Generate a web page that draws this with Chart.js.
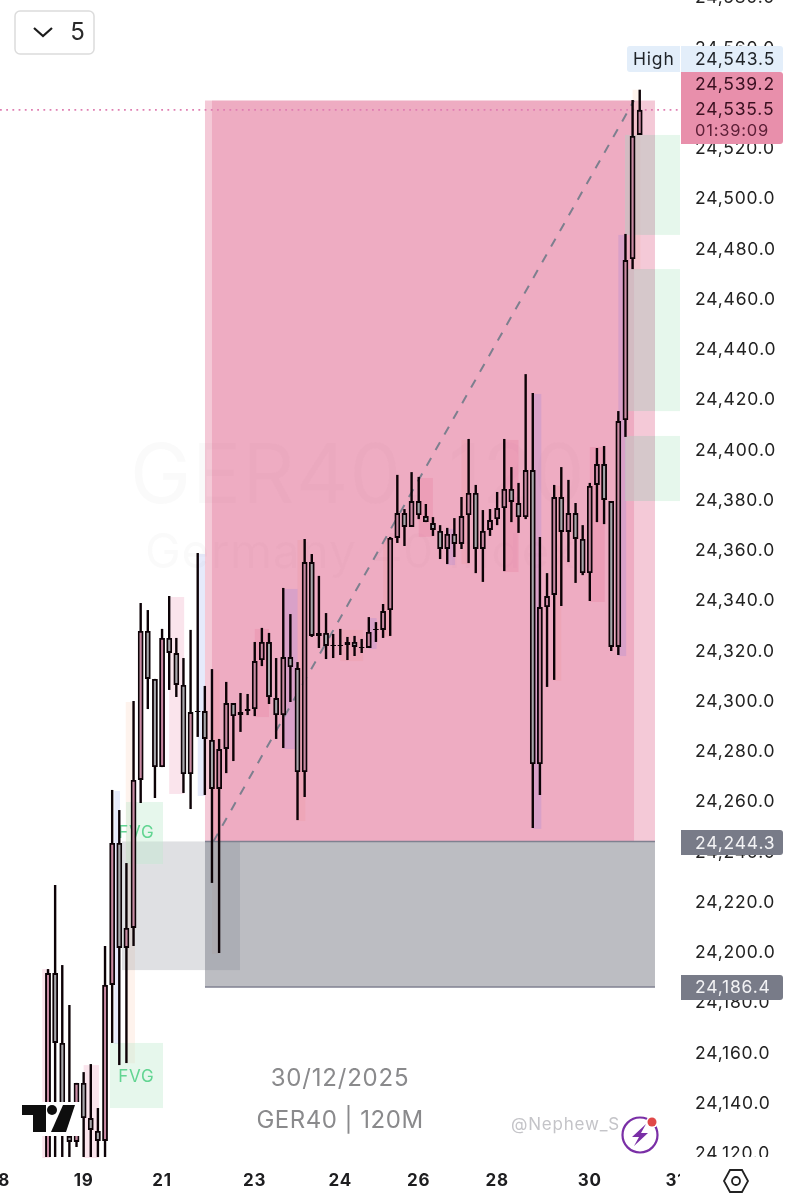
<!DOCTYPE html>
<html><head><meta charset="utf-8">
<style>html,body{margin:0;padding:0;background:#fff;overflow:hidden}canvas{position:absolute;left:0;top:-2px}</style>
<script src="https://cdn.jsdelivr.net/npm/chart.js@4/dist/chart.umd.min.js"></script>
</head><body><canvas id="c" width="791" height="1202" style="width:791px;height:1202px"></canvas>
<script>
const opens=[24115.5,24191.9,24164.1,24127.1,24124.7,24148.2,24134.2,24129.1,24125.1,24187.2,24243.7,24201.9,24209.9,24268.8,24328.1,24309,24273.9,24325.3,24319.3,24306.6,24271.1,24295.8,24296.2,24284.7,24265.2,24281.1,24299.4,24294.6,24296.2,24297,24316.5,24323.7,24301.4,24294.6,24317.7,24313.3,24271.9,24355.5,24326.1,24327.3,24322.1,24322.5,24322.5,24323.7,24321.7,24321.3,24328.5,24328.5,24336.4,24365.1,24375,24369.5,24379.8,24373.8,24371,24367.9,24360.7,24366.7,24362.7,24374.2,24383,24360.7,24368.3,24372.6,24377,24384.6,24379,24373.4,24392.1,24275.1,24337.6,24342.4,24381.4,24367.5,24375,24364.7,24351.1,24386.2,24394.5,24379.8,24321.7,24412,24476.1,24525.5];
const highs=[24193.5,24227,24195.1,24179.2,24148.2,24152.5,24155.7,24138.2,24202.7,24264.8,24256.8,24235.7,24300.2,24339.2,24336.4,24309,24328.9,24342,24325.3,24317.3,24328.5,24359.1,24306.2,24312.9,24285.1,24307.8,24299.4,24303.4,24303,24323.7,24329.3,24327.3,24317.3,24345.2,24334.8,24315.7,24364.7,24358.7,24350,24335.2,24326.9,24328.9,24325.7,24326.1,24324.9,24333.6,24331.6,24338.8,24365.5,24390.2,24376.6,24391.3,24389.4,24378.6,24373.4,24370.2,24369.1,24373,24381.4,24404.5,24386.2,24376.2,24376.6,24383.4,24404.5,24393.3,24387,24430.3,24422.8,24365.5,24351.1,24386.2,24393.3,24388.2,24379,24370.2,24387,24400.9,24401.7,24379.8,24415.6,24486.1,24539.4,24543.5];
const lows=[24115.5,24115.5,24115.5,24115.5,24122.7,24115.5,24115.5,24115.5,24115.5,24164.1,24155.3,24156.1,24202.7,24259.6,24297,24261.6,24273.9,24304.6,24301.8,24263.6,24257.2,24285.9,24262.8,24227.8,24199.9,24271.5,24276.3,24287.9,24294.6,24294.2,24314.1,24299,24285.1,24281.5,24299.8,24252.8,24262,24325.7,24321.3,24316.9,24317.3,24318.5,24316.5,24318.1,24319.3,24321.3,24323.7,24325.3,24326.1,24363.1,24361.9,24369.5,24372.6,24371.4,24365.9,24356.7,24354.7,24357.5,24360.7,24355.1,24351.1,24347.6,24365.9,24370.2,24351.9,24371.4,24367.1,24372.6,24249.7,24262.8,24305.8,24308.6,24338,24355.5,24347.2,24350.3,24340,24371.4,24370.6,24320.1,24318.5,24405.3,24472.1,24525.5];
const closes=[24191.9,24164.1,24127.1,24124.7,24148.2,24134.2,24129.5,24125.1,24187.2,24243.7,24201.9,24209.9,24268.8,24328.1,24309,24273.9,24325.3,24319.3,24306.6,24271.1,24295.8,24296.2,24285.1,24265.2,24281.1,24299.4,24294.2,24295.8,24297,24316.1,24323.7,24301.8,24294.6,24317.7,24313.7,24271.9,24355.5,24326.1,24327.3,24322.1,24322.5,24322.1,24323.7,24321.7,24321.3,24327.7,24328.9,24336,24365.1,24375,24369.5,24379.8,24374.2,24371.4,24368.3,24360.7,24366.7,24362.7,24373.8,24383,24360.7,24367.9,24372.2,24377,24384.6,24379.4,24373.4,24392.1,24275.1,24337.6,24342,24381.4,24367.5,24375,24364.7,24351.1,24385.8,24394.5,24380.2,24321.7,24411.6,24475.7,24525.1,24535.5];

const yTicks=[24120,24140,24160,24180,24200,24220,24240,24260,24280,24300,24320,24340,24360,24380,24400,24420,24440,24460,24480,24500,24520,24540,24560,24580];
const dayTickIndex=[-6.73,5,16,29,41,52,63,76,88];
const dayTickLabel=['18','19','21','23','24','26','28','30','31'];

// zones: [first bar, last bar, top price, bottom price]
const premiumOuter=[22.02,85.14,24539.2,24244.3];
const premiumInner=[23,82.2,24539.2,24244.3];
const discount=[22.02,85.14,24244.3,24186.4];
const orderBlock=[10.38,26.93,24244.3,24193.1];
const fvgLeft=[[10.94,16.13,24260,24235.3],[8.7,16.13,24164.1,24138.2]];
const fvgRight=[[80.94,88.65,24525.5,24485.7],[80.94,88.65,24472.1,24415.6],[80.94,88.65,24405.7,24379.8]];
const fvgLabels=[[12.4,24247.7],[12.4,24150.5]];
const pinkBands=[[-0.8,0.3,24193.5,24118.3],[5,7.15,24155.3,24118.3],[17,19.1,24341.6,24263.2],[29,31,24328.9,24293.8],[52,54,24389,24365.5],[64,66,24404.1,24351.5],[76,78.1,24401.3,24339.6]];
const blueBands=[[9.3,10.1,24264.4,24163.7],[21,22.02,24358.7,24262.4]];
const peachBands=[[10.9,12.2,24299.8,24156],[23,24.1,24312.5,24199.5],[35,36.1,24364.3,24252.4],[41,44.2,24328.5,24316.1],[47,48.1,24365.1,24325.7],[58,59.1,24404.1,24354.7],[71,72,24385.8,24308.2],[82,83.1,24543.5,24471.7]];
const purpleBands=[[33,35,24344.8,24281.1],[45,46.1,24333.2,24320.9],[56,57.1,24368.7,24354.3],[68,69.2,24422.4,24249.3],[80,81.1,24485.7,24318.1]];
const fibLine=[[23.2,24244.3],[82.2,24539.2]];
const lastPrice=24535.5;

const idx=opens.map((_,i)=>i);
const upColor='#c98aa3', downColor='#a7a7ab', inkColor='#16060c';
const FONT='Inter, "Noto Sans", sans-serif';

function rect(chart,ctx,z,color){
  const {x,y}=chart.scales;
  const x0=x.getPixelForValue(z[0]),x1=x.getPixelForValue(z[1]),y0=y.getPixelForValue(z[2]),y1=y.getPixelForValue(z[3]);
  ctx.fillStyle=color;ctx.fillRect(x0,y0,x1-x0,y1-y0);
}
const zonesPlugin={id:'zones',
 beforeDraw(chart){chart.ctx.letterSpacing='0.8px';},
 beforeDatasetsDraw(chart){
  const ctx=chart.ctx,{x,y}=chart.scales;
  ctx.save();
  ctx.font='82px '+FONT;ctx.fillStyle='rgba(110,110,110,0.03)';ctx.textAlign='left';ctx.textBaseline='alphabetic';
  ctx.fillText('GER40, 120',130,505);
  ctx.font='48px '+FONT;ctx.fillText('Germany 40 Index',145,570);
  pinkBands.forEach(b=>rect(chart,ctx,b,'rgba(228,120,160,0.2)'));
  blueBands.forEach(b=>rect(chart,ctx,b,'rgba(130,150,235,0.2)'));
  peachBands.forEach(b=>rect(chart,ctx,b,'rgba(250,170,130,0.14)'));
  rect(chart,ctx,premiumOuter,'rgba(224,100,140,0.35)');
  rect(chart,ctx,premiumInner,'rgba(218,70,120,0.22)');
  purpleBands.forEach(b=>rect(chart,ctx,b,'rgba(130,110,225,0.19)'));
  rect(chart,ctx,discount,'rgba(122,124,133,0.5)');
  rect(chart,ctx,orderBlock,'rgba(128,130,145,0.25)');
  fvgLeft.forEach(b=>rect(chart,ctx,b,'rgba(190,235,205,0.38)'));
  fvgRight.forEach(b=>{
    rect(chart,ctx,[b[0],premiumOuter[1],b[2],b[3]],'rgba(193,199,195,0.6)');
    rect(chart,ctx,[premiumOuter[1],b[1],b[2],b[3]],'rgba(190,235,205,0.38)');
  });
  ctx.strokeStyle='#7f8190';ctx.lineWidth=1.6;
  [discount[2],discount[3]].forEach(p=>{const py=y.getPixelForValue(p);ctx.beginPath();ctx.moveTo(x.getPixelForValue(discount[0]),py);ctx.lineTo(x.getPixelForValue(discount[1]),py);ctx.stroke();});
  ctx.font='17px '+FONT;ctx.fillStyle='#62d592';ctx.textAlign='center';ctx.textBaseline='middle';
  fvgLabels.forEach(l=>ctx.fillText('FVG',x.getPixelForValue(l[0]),y.getPixelForValue(l[1])));
  const ly=y.getPixelForValue(lastPrice);
  ctx.strokeStyle='#df7fb2';ctx.lineWidth=1.7;ctx.setLineDash([1.8,4.4]);
  ctx.beginPath();ctx.moveTo(0,ly);ctx.lineTo(chart.chartArea.right,ly);ctx.stroke();
  ctx.restore();
}};
function box(ctx,x,y,w,h,fill,r){ctx.fillStyle=fill;ctx.beginPath();ctx.roundRect(x,y,w,h,r);ctx.fill();}
const overlayPlugin={id:'overlay',afterDraw(chart){
  const ctx=chart.ctx;
  ctx.save();ctx.translate(0,2);
  ctx.fillStyle='#fff';ctx.fillRect(680,1157,111,50);
  ctx.textAlign='center';ctx.textBaseline='middle';ctx.fillStyle='#8a8a8c';ctx.font='24px '+FONT;
  ctx.fillText('30/12/2025',340,1079);
  ctx.letterSpacing='0.5px';ctx.fillText('GER40 | 120M',340,1121);ctx.letterSpacing='0.8px';
  ctx.fillStyle='#c4c4c8';ctx.font='17px '+FONT;ctx.textAlign='left';
  ctx.fillText('@Nephew_S',511,1125);
  ctx.fillStyle='#fff';ctx.beginPath();ctx.arc(640,1135,19,0,7);ctx.fill();
  ctx.strokeStyle='#7a2fa6';ctx.lineWidth=2.2;ctx.beginPath();ctx.arc(640,1135,17.5,0,6.3);ctx.stroke();
  ctx.fillStyle='#7a2fa6';ctx.beginPath();ctx.moveTo(646,1124);ctx.lineTo(632,1137);ctx.lineTo(639,1137);ctx.lineTo(634,1146);ctx.lineTo(648,1133);ctx.lineTo(641,1133);ctx.closePath();ctx.fill();
  ctx.fillStyle='#fff';ctx.beginPath();ctx.arc(652,1122,6,0,7);ctx.fill();
  ctx.fillStyle='#e04848';ctx.beginPath();ctx.arc(652,1122,4.5,0,7);ctx.fill();
  ctx.fillStyle='#fff';ctx.fillRect(20,1102,60,34);
  ctx.fillStyle='#0e0e0e';
  ctx.beginPath();ctx.moveTo(22,1105);ctx.lineTo(46,1105);ctx.lineTo(46,1132);ctx.lineTo(33,1132);ctx.lineTo(33,1115);ctx.lineTo(22,1115);ctx.closePath();ctx.fill();
  ctx.beginPath();ctx.arc(52,1110,5,0,7);ctx.fill();
  ctx.beginPath();ctx.moveTo(63,1105);ctx.lineTo(75,1105);ctx.lineTo(66,1132);ctx.lineTo(51,1132);ctx.closePath();ctx.fill();
  ctx.strokeStyle='#dcdcdc';ctx.lineWidth=1.5;ctx.fillStyle='#fff';ctx.beginPath();ctx.roundRect(15,11,79,43,5);ctx.fill();ctx.stroke();
  ctx.strokeStyle='#1c1c1c';ctx.lineWidth=2.2;ctx.beginPath();ctx.moveTo(34,28);ctx.lineTo(43,36);ctx.lineTo(52,28);ctx.stroke();
  ctx.fillStyle='#2a2a2a';ctx.font='24px '+FONT;ctx.textAlign='center';ctx.fillText('5',78,33);
  box(ctx,627,46,53,26,'#e3eefa',[3,0,0,3]);
  box(ctx,681,46,102,26,'#e3eefa',[0,3,3,0]);
  box(ctx,681,72,102,72,'#e88fab',[0,3,3,0]);
  box(ctx,681,830,102,25,'#787b88',[0,3,3,0]);
  box(ctx,681,975,102,25,'#787b88',[0,3,3,0]);
  ctx.font='17.5px '+FONT;ctx.textAlign='left';ctx.fillStyle='#1f2328';
  ctx.fillText('High',633,60);ctx.fillText('24,543.5',695,60);
  ctx.fillStyle='#3a1020';ctx.fillText('24,539.2',695,85);ctx.fillText('24,535.5',695,110);
  ctx.font='16.5px '+FONT;ctx.fillStyle='#5e2038';ctx.fillText('01:39:09',695,131);
  ctx.font='17.5px '+FONT;ctx.fillStyle='#f2f2f4';ctx.fillText('24,244.3',695,844);ctx.fillText('24,186.4',695,988);
  ctx.strokeStyle='#222';ctx.lineWidth=1.8;ctx.beginPath();
  ctx.moveTo(724,1181);ctx.lineTo(730,1170);ctx.lineTo(742,1170);ctx.lineTo(748,1181);ctx.lineTo(742,1192);ctx.lineTo(730,1192);ctx.closePath();ctx.stroke();
  ctx.beginPath();ctx.arc(736,1181,4,0,7);ctx.stroke();
  ctx.restore();
}};
new Chart(document.getElementById('c'),{
  data:{datasets:[
    {type:'line',order:3,data:fibLine.map(p=>({x:p[0],y:p[1]})),borderColor:'#7d7f8e',borderWidth:2,borderDash:[9,9],pointRadius:0,tension:0},
    {type:'bar',order:2,data:idx.map(i=>({x:i,y:[lows[i],highs[i]]})),backgroundColor:'#0c0206',borderWidth:0,barThickness:2.4,grouped:false,inflateAmount:0},
    {type:'bar',order:1,data:idx.map(i=>({x:i,y:[opens[i],closes[i]]})),backgroundColor:idx.map(i=>closes[i]>=opens[i]?upColor:downColor),borderColor:'#0c0206',borderWidth:1.9,borderSkipped:false,barThickness:5.8,grouped:false,inflateAmount:0}
  ]},
  options:{responsive:false,animation:false,devicePixelRatio:1,events:[],
    layout:{padding:0},
    plugins:{legend:{display:false},tooltip:{enabled:false},title:{display:false}},
    scales:{
      x:{type:'linear',position:'bottom',min:-6.733,max:88.65,offset:false,grid:{display:false,drawTicks:false},border:{display:false},
        afterBuildTicks(s){s.ticks=dayTickIndex.map(v=>({value:v}));},
        ticks:{autoSkip:false,maxRotation:0,padding:14,color:'#1d1d1f',font:{family:FONT,size:17,weight:'700'},callback:v=>dayTickLabel[dayTickIndex.indexOf(v)]},
        afterFit(s){s.height=43;s.paddingLeft=0;s.paddingRight=0;}},
      y:{type:'linear',position:'right',min:24118.71,max:24580,grid:{display:false,drawTicks:false},border:{display:false},
        afterBuildTicks(s){s.ticks=yTicks.map(v=>({value:v}));},
        ticks:{autoSkip:false,padding:15,color:'#222',font:{family:FONT,size:17.5},callback:v=>v.toLocaleString('en-US',{minimumFractionDigits:1,maximumFractionDigits:1})},
        afterFit(s){s.width=111;s.paddingTop=0;s.paddingBottom=0;}}
    }},
  plugins:[zonesPlugin,overlayPlugin]
});
</script></body></html>
